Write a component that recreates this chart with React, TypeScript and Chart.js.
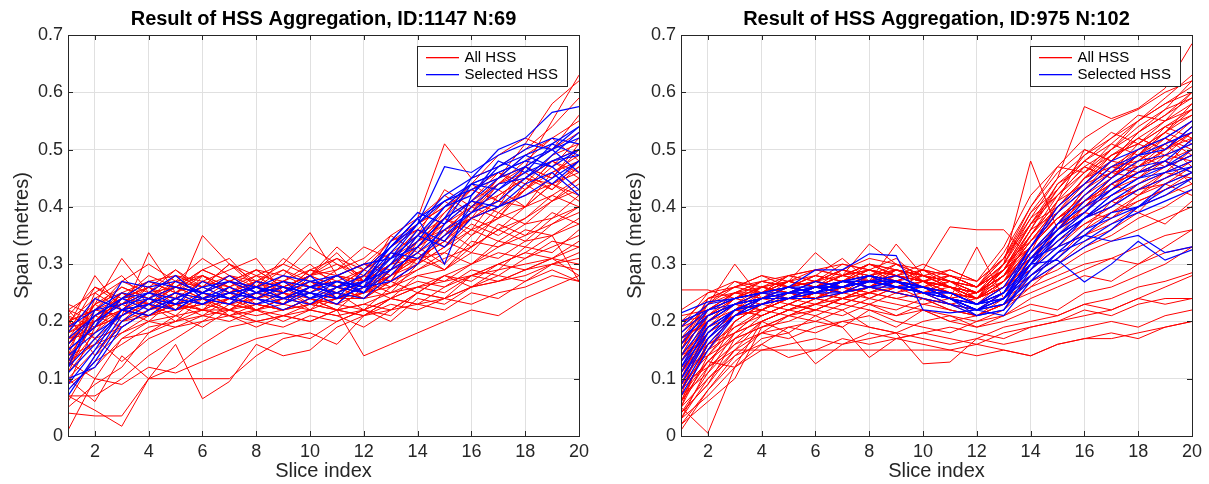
import React, { useEffect, useRef } from "react";
import { Chart, registerables } from "chart.js";

Chart.register(...registerables);

// ---------------- data ----------------
const sliceIndex = [1, 2, 3, 4, 5, 6, 7, 8, 9, 10, 11, 12, 13, 14, 15, 16, 17, 18, 19, 20];
const xTickValues = [2, 4, 6, 8, 10, 12, 14, 16, 18, 20];
const yTickValues = [0, 0.1, 0.2, 0.3, 0.4, 0.5, 0.6, 0.7];
const yTickLabels = ["0", "0.1", "0.2", "0.3", "0.4", "0.5", "0.6", "0.7"];

const leftTitle = "Result of HSS Aggregation, ID:1147 N:69";
const rightTitle = "Result of HSS Aggregation, ID:975 N:102";
const legendLabels = ["All HSS", "Selected HSS"];
const xAxisLabel = "Slice index";
const yAxisLabel = "Span (metres)";

const leftAllHSS: number[][] = [
  [.01, .10, .17, .20, .21, .22, .22, .23, .22, .23, .24, .25, .27, .30, .33, .36, .38, .40, .42, .45],
  [.07, .045, .017, .10, .12, .16, .19, .20, .21, .22, .21, .22, .24, .26, .28, .30, .33, .35, .37, .40],
  [.04, .035, .035, .10, .10, .10, .10, .14, .17, .18, .16, .21, .22, .23, .24, .26, .27, .29, .30, .32],
  [.10, .06, .14, .10, .16, .065, .095, .16, .14, .15, .19, .21, .24, .26, .25, .28, .30, .29, .31, .34],
  [.22, .17, .19, .22, .25, .24, .22, .25, .27, .26, .28, .27, .30, .31, .35, .38, .40, .42, .44, .47],
  [.16, .20, .24, .23, .26, .28, .25, .27, .26, .28, .26, .29, .33, .37, .40, .43, .45, .47, .50, .53],
  [.19, .28, .22, .26, .24, .35, .30, .26, .27, .25, .28, .30, .29, .31, .32, .36, .34, .37, .38, .40],
  [.13, .22, .21, .32, .25, .27, .26, .28, .30, .355, .28, .26, .30, .34, .37, .41, .44, .46, .43, .48],
  [.17, .23, .31, .25, .28, .24, .26, .24, .25, .24, .22, .26, .28, .33, .39, .44, .41, .45, .48, .50],
  [.21, .14, .18, .21, .23, .22, .21, .22, .23, .22, .24, .24, .25, .26, .27, .28, .29, .30, .31, .33],
  [.15, .19, .21, .24, .22, .23, .24, .23, .22, .24, .23, .25, .26, .28, .27, .30, .32, .31, .33, .35],
  [.23, .21, .25, .23, .27, .26, .24, .27, .25, .27, .24, .27, .31, .34, .36, .40, .42, .45, .44, .46],
  [.08, .13, .16, .19, .20, .21, .22, .21, .22, .23, .22, .23, .22, .25, .24, .26, .27, .28, .30, .31],
  [.11, .17, .13, .17, .19, .20, .23, .22, .24, .23, .25, .24, .27, .29, .31, .33, .36, .38, .41, .43],
  [.18, .26, .23, .27, .25, .29, .27, .26, .31, .28, .29, .31, .35, .38, .51, .45, .47, .50, .54, .59],
  [.20, .24, .27, .25, .26, .24, .25, .26, .24, .26, .27, .26, .29, .32, .35, .38, .40, .43, .46, .48],
  [.14, .16, .20, .21, .23, .24, .22, .24, .23, .25, .24, .26, .24, .28, .29, .32, .31, .34, .35, .37],
  [.06, .14, .20, .24, .22, .23, .25, .24, .26, .23, .25, .27, .30, .33, .36, .38, .41, .40, .44, .42],
  [.12, .20, .22, .20, .24, .22, .26, .23, .25, .22, .26, .24, .27, .25, .28, .27, .30, .32, .31, .28],
  [.17, .18, .22, .23, .21, .25, .23, .22, .24, .25, .23, .28, .26, .31, .29, .34, .33, .36, .35, .38],
  [.09, .12, .17, .18, .21, .19, .22, .20, .21, .20, .22, .21, .23, .22, .24, .23, .25, .26, .28, .27],
  [.20, .22, .24, .26, .23, .25, .27, .29, .26, .28, .30, .28, .33, .36, .34, .39, .43, .40, .46, .49],
  [.16, .23, .20, .22, .24, .26, .28, .25, .23, .26, .29, .33, .31, .36, .41, .38, .44, .48, .52, .55],
  [.13, .10, .09, .12, .11, .13, .15, .17, .18, .17, .20, .22, .20, .24, .23, .26, .28, .27, .30, .29],
  [.18, .21, .23, .25, .24, .27, .25, .28, .27, .29, .28, .27, .32, .35, .38, .41, .39, .43, .47, .52],
  [.22, .25, .22, .24, .26, .25, .23, .24, .26, .24, .26, .25, .28, .30, .33, .37, .35, .38, .42, .40],
  [.10, .15, .19, .22, .23, .21, .24, .22, .20, .22, .21, .19, .22, .25, .28, .26, .29, .33, .32, .36],
  [.15, .23, .25, .22, .27, .28, .26, .29, .28, .33, .30, .27, .25, .30, .36, .33, .39, .37, .41, .44],
  [.19, .20, .25, .27, .28, .26, .30, .27, .29, .26, .27, .29, .34, .37, .40, .44, .49, .52, .50, .56],
  [.05, .09, .12, .18, .20, .22, .21, .23, .22, .24, .22, .23, .25, .27, .26, .29, .28, .31, .34, .33],
  [.21, .19, .22, .21, .24, .23, .25, .22, .24, .26, .25, .22, .26, .29, .32, .30, .34, .33, .37, .39],
  [.12, .18, .24, .26, .22, .28, .25, .27, .24, .27, .25, .28, .27, .33, .30, .35, .38, .44, .41, .45],
  [.17, .21, .19, .22, .25, .23, .22, .25, .26, .28, .33, .29, .32, .30, .35, .41, .46, .43, .48, .46],
  [.14, .25, .28, .23, .26, .29, .31, .26, .23, .28, .26, .24, .29, .35, .43, .40, .45, .51, .58, .62],
  [.20, .17, .21, .24, .23, .22, .24, .26, .25, .23, .24, .25, .29, .34, .38, .35, .40, .47, .55, .63],
  [.09, .19, .21, .23, .20, .24, .21, .20, .19, .21, .20, .22, .24, .23, .22, .25, .24, .27, .29, .27],
  [.16, .22, .26, .24, .28, .27, .29, .31, .25, .29, .31, .27, .35, .32, .38, .43, .41, .47, .45, .51],
  [.07, .07, .10, .14, .17, .20, .21, .19, .21, .23, .22, .21, .24, .23, .26, .28, .27, .29, .31, .30],
  [.22, .20, .23, .26, .29, .25, .27, .24, .26, .25, .28, .30, .28, .32, .29, .33, .36, .34, .38, .42],
  [.11, .21, .23, .21, .22, .24, .23, .25, .24, .26, .24, .26, .28, .31, .34, .32, .37, .35, .39, .37],
  [.18, .20, .22, .21, .23, .22, .24, .23, .22, .24, .23, .22, .21, .25, .24, .28, .30, .32, .35, .27],
  [.13, .16, .18, .20, .19, .21, .20, .22, .21, .20, .22, .14, .16, .18, .20, .22, .21, .24, .26, .28],
  [.19, .23, .26, .24, .27, .25, .28, .26, .29, .27, .26, .28, .31, .35, .39, .43, .46, .44, .49, .51],
  [.14, .20, .24, .27, .25, .28, .26, .24, .27, .30, .26, .29, .27, .34, .38, .36, .42, .45, .43, .47],
  [.21, .26, .24, .28, .26, .24, .27, .29, .26, .28, .32, .27, .30, .33, .37, .40, .38, .43, .48, .45],
  [.17, .19, .25, .23, .26, .29, .27, .25, .28, .26, .28, .30, .34, .36, .33, .39, .44, .47, .45, .50],
  [.12, .24, .22, .25, .29, .26, .30, .28, .25, .29, .27, .25, .28, .31, .34, .38, .36, .40, .44, .41],
  [.20, .22, .27, .30, .27, .31, .28, .27, .30, .28, .31, .29, .33, .38, .42, .39, .45, .49, .52, .48],
];

const leftSelectedHSS: number[][] = [
  [.07, .14, .21, .24, .23, .24, .25, .24, .23, .25, .24, .26, .30, .34, .40, .42, .47, .49, .51, .54],
  [.10, .12, .19, .22, .24, .23, .25, .26, .24, .26, .27, .25, .32, .37, .41, .44, .46, .48, .47, .50],
  [.15, .19, .27, .26, .27, .25, .27, .26, .28, .27, .26, .28, .33, .37, .42, .45, .50, .52, .565, .575],
  [.12, .17, .22, .23, .25, .24, .23, .25, .24, .26, .25, .27, .31, .35, .40, .44, .43, .47, .50, .52],
  [.17, .21, .24, .25, .24, .26, .24, .25, .27, .24, .25, .27, .29, .32, .36, .39, .41, .45, .48, .49],
  [.19, .22, .23, .25, .28, .24, .26, .24, .22, .24, .26, .27, .33, .38, .41, .43, .45, .49, .47, .43],
  [.08, .13, .20, .23, .22, .25, .24, .23, .25, .28, .24, .26, .31, .33, .38, .41, .40, .44, .46, .42],
  [.14, .18, .21, .24, .26, .25, .24, .26, .25, .27, .28, .25, .30, .36, .34, .40, .44, .45, .49, .53],
  [.16, .21, .24, .22, .24, .26, .27, .25, .26, .25, .24, .29, .33, .38, .30, .42, .48, .46, .51, .49],
  [.11, .16, .22, .25, .23, .24, .23, .27, .26, .24, .27, .26, .34, .39, .37, .41, .45, .47, .44, .48],
  [.18, .24, .22, .23, .25, .23, .26, .24, .23, .26, .25, .24, .28, .33, .38, .45, .47, .50, .52, .51],
  [.13, .20, .23, .24, .22, .25, .24, .23, .24, .25, .23, .27, .32, .31, .35, .39, .43, .46, .48, .50],
  [.09, .15, .22, .21, .24, .23, .25, .26, .24, .23, .26, .25, .29, .35, .33, .38, .40, .42, .45, .48],
  [.15, .19, .24, .27, .26, .25, .28, .25, .27, .26, .28, .30, .31, .37, .47, .46, .49, .51, .50, .54],
  [.12, .22, .25, .24, .23, .27, .25, .24, .26, .25, .27, .26, .27, .30, .37, .44, .46, .48, .50, .46],
];

const rightAllHSS: number[][] = [
  [.255, .255, .24, .25, .26, .27, .26, .27, .28, .27, .26, .25, .28, .34, .40, .45, .48, .52, .55, .60],
  [.05, .005, .12, .20, .22, .24, .25, .26, .27, .26, .25, .24, .27, .33, .38, .42, .46, .47, .50, .52],
  [.18, .23, .30, .24, .25, .26, .27, .28, .26, .27, .25, .23, .26, .30, .35, .39, .43, .46, .48, .50],
  [.03, .10, .15, .20, .22, .23, .25, .26, .25, .24, .23, .22, .25, .31, .36, .40, .44, .46, .47, .49],
  [.10, .20, .24, .26, .27, .32, .28, .29, .28, .27, .26, .25, .29, .35, .41, .46, .50, .53, .57, .62],
  [.14, .22, .25, .27, .26, .28, .31, .27, .29, .28, .27, .26, .30, .37, .42, .47, .45, .49, .53, .58],
  [.08, .15, .20, .23, .25, .24, .26, .27, .28, .26, .25, .24, .26, .29, .33, .37, .40, .43, .45, .47],
  [.20, .24, .25, .27, .26, .27, .28, .335, .30, .28, .27, .25, .28, .33, .39, .43, .47, .50, .53, .56],
  [.12, .19, .22, .23, .24, .26, .25, .27, .335, .28, .26, .24, .29, .36, .43, .49, .52, .55, .58, .60],
  [.16, .21, .23, .25, .27, .26, .28, .29, .27, .29, .365, .36, .36, .31, .37, .41, .44, .47, .49, .51],
  [.04, .09, .17, .21, .23, .25, .24, .26, .27, .25, .24, .33, .24, .30, .34, .38, .41, .43, .46, .45],
  [.21, .22, .25, .24, .25, .27, .26, .28, .29, .27, .26, .24, .30, .48, .36, .42, .46, .45, .49, .48],
  [.07, .13, .18, .22, .24, .23, .25, .24, .26, .25, .23, .22, .24, .28, .32, .36, .41, .39, .44, .42],
  [.19, .25, .26, .25, .28, .27, .29, .27, .28, .30, .28, .26, .31, .38, .45, .575, .554, .572, .607, .685],
  [.02, .06, .10, .19, .21, .23, .24, .25, .26, .24, .23, .21, .23, .27, .30, .33, .35, .38, .40, .43],
  [.13, .18, .22, .25, .24, .26, .27, .26, .28, .27, .25, .24, .28, .34, .40, .44, .49, .51, .54, .57],
  [.09, .16, .21, .24, .23, .25, .27, .28, .27, .26, .24, .23, .27, .32, .37, .39, .43, .47, .50, .54],
  [.17, .20, .24, .23, .25, .24, .26, .25, .27, .26, .24, .22, .25, .30, .34, .38, .40, .44, .46, .48],
  [.06, .12, .16, .20, .22, .24, .23, .25, .24, .25, .26, .24, .26, .33, .38, .41, .44, .42, .46, .50],
  [.22, .25, .27, .26, .28, .29, .28, .30, .29, .28, .29, .27, .31, .37, .44, .48, .51, .55, .59, .63],
  [.11, .17, .21, .22, .24, .25, .24, .26, .25, .27, .24, .25, .28, .35, .40, .45, .47, .46, .48, .44],
  [.15, .21, .23, .24, .26, .25, .27, .29, .31, .27, .26, .23, .26, .31, .35, .40, .45, .49, .52, .55],
  [.01, .08, .14, .18, .21, .22, .24, .23, .25, .24, .22, .21, .24, .29, .34, .37, .39, .41, .43, .46],
  [.19, .23, .26, .28, .27, .26, .28, .27, .26, .28, .27, .25, .29, .36, .39, .43, .48, .52, .50, .53],
  [.12, .16, .19, .21, .23, .22, .24, .25, .27, .26, .25, .23, .25, .32, .41, .50, .48, .53, .56, .59],
  [.04, .11, .18, .22, .24, .26, .25, .27, .26, .27, .25, .24, .27, .31, .36, .40, .42, .44, .47, .49],
  [.20, .22, .24, .26, .25, .27, .26, .28, .27, .26, .28, .26, .30, .34, .38, .41, .43, .48, .51, .47],
  [.08, .18, .22, .23, .25, .24, .26, .24, .26, .25, .23, .24, .26, .30, .37, .43, .46, .49, .47, .52],
  [.14, .19, .21, .22, .21, .23, .22, .24, .23, .22, .21, .20, .22, .26, .28, .30, .31, .33, .35, .36],
  [.10, .15, .18, .20, .22, .21, .23, .22, .21, .23, .22, .21, .23, .25, .27, .29, .31, .30, .32, .33],
  [.06, .13, .17, .19, .20, .22, .21, .23, .22, .24, .23, .22, .24, .27, .29, .32, .34, .36, .38, .40],
  [.16, .20, .22, .21, .23, .22, .24, .23, .21, .22, .20, .21, .23, .26, .30, .34, .36, .39, .37, .41],
  [.03, .07, .12, .15, .16, .17, .16, .17, .18, .17, .16, .17, .16, .17, .18, .19, .20, .19, .21, .22],
  [.05, .10, .14, .16, .137, .15, .17, .16, .17, .18, .17, .16, .18, .19, .20, .22, .21, .23, .24, .24],
  [.02, .08, .13, .17, .18, .126, .16, .18, .17, .16, .15, .14, .15, .14, .16, .17, .18, .17, .19, .20],
  [.09, .12, .15, .18, .19, .20, .19, .137, .17, .18, .19, .18, .17, .19, .20, .21, .22, .24, .26, .28],
  [.07, .11, .16, .18, .17, .19, .20, .19, .18, .126, .129, .17, .19, .20, .21, .23, .24, .26, .27, .285],
  [.04, .09, .15, .15, .15, .15, .15, .15, .15, .15, .15, .16, .15, .14, .16, .17, .17, .18, .19, .20],
  [.12, .14, .17, .19, .21, .20, .22, .19, .18, .20, .21, .19, .20, .22, .21, .23, .22, .24, .23, .24],
  [.06, .16, .18, .20, .18, .21, .19, .22, .20, .19, .18, .20, .21, .23, .22, .25, .26, .28, .30, .33],
  [.08, .13, .12, .16, .19, .18, .20, .21, .19, .22, .20, .19, .21, .24, .26, .28, .27, .30, .33, .36],
  [.18, .22, .25, .24, .26, .27, .25, .28, .27, .29, .27, .26, .29, .33, .39, .45, .50, .55, .58, .61],
  [.13, .21, .24, .26, .25, .24, .27, .26, .28, .27, .26, .25, .28, .31, .35, .38, .41, .43, .44, .46],
  [.05, .14, .19, .22, .24, .26, .27, .29, .28, .26, .27, .25, .27, .32, .36, .39, .38, .42, .45, .48],
  [.15, .23, .25, .25, .27, .26, .28, .27, .30, .28, .26, .24, .26, .29, .33, .35, .38, .41, .43, .45],
  [.17, .20, .23, .25, .24, .26, .25, .27, .26, .25, .27, .26, .32, .40, .47, .46, .51, .49, .54, .56],
  [.03, .12, .20, .23, .25, .24, .26, .28, .27, .28, .26, .24, .27, .33, .38, .41, .45, .48, .51, .53],
  [.11, .18, .21, .24, .26, .25, .27, .26, .29, .27, .28, .26, .29, .35, .42, .47, .45, .50, .52, .49],
  [.20, .21, .23, .22, .24, .25, .24, .26, .25, .24, .22, .21, .23, .28, .31, .35, .37, .40, .42, .44],
  [.09, .14, .20, .23, .22, .24, .26, .25, .27, .26, .25, .23, .25, .30, .36, .40, .43, .45, .48, .46],
  [.14, .17, .22, .21, .23, .25, .27, .26, .25, .26, .24, .25, .29, .37, .43, .48, .52, .56, .55, .58],
  [.07, .20, .23, .22, .25, .24, .23, .25, .24, .23, .24, .22, .25, .28, .31, .36, .39, .42, .44, .47],
  [.16, .24, .26, .27, .28, .29, .30, .29, .28, .29, .28, .27, .33, .42, .47, .52, .55, .57, .60, .62],
  [.11, .21, .25, .26, .27, .28, .27, .30, .29, .28, .27, .26, .30, .39, .45, .49, .53, .51, .55, .57],
  [.09, .19, .23, .26, .25, .27, .29, .28, .30, .29, .26, .25, .28, .36, .44, .47, .50, .54, .57, .59],
  [.14, .22, .24, .25, .27, .26, .28, .30, .28, .27, .26, .25, .30, .38, .42, .46, .49, .52, .50, .54],
  [.05, .17, .22, .24, .26, .28, .27, .29, .28, .27, .29, .27, .31, .40, .46, .50, .48, .53, .56, .60],
  [.19, .21, .24, .27, .26, .28, .27, .26, .29, .28, .27, .24, .28, .34, .39, .44, .48, .47, .51, .55],
  [.13, .20, .23, .25, .27, .26, .29, .28, .27, .26, .25, .24, .27, .35, .41, .44, .46, .50, .53, .51],
  [.08, .15, .22, .26, .25, .27, .26, .28, .29, .28, .26, .25, .29, .37, .40, .45, .49, .51, .49, .53],
  [.17, .23, .27, .25, .28, .27, .30, .29, .27, .29, .28, .26, .29, .33, .38, .42, .45, .49, .53, .57],
  [.10, .18, .21, .24, .27, .29, .28, .30, .28, .27, .28, .26, .31, .39, .43, .48, .46, .51, .54, .52],
  [.15, .24, .26, .28, .26, .27, .29, .31, .30, .27, .26, .24, .27, .31, .36, .41, .44, .46, .50, .53],
  [.06, .16, .21, .25, .26, .25, .27, .28, .27, .29, .27, .25, .28, .32, .37, .43, .47, .48, .52, .50],
];

const rightSelectedHSS: number[][] = [
  [.215, .234, .24, .25, .26, .29, .29, .318, .315, .22, .215, .22, .24, .30, .35, .38, .42, .45, .47, .50],
  [.07, .15, .21, .23, .24, .25, .26, .27, .26, .25, .24, .22, .25, .32, .37, .40, .43, .46, .48, .517],
  [.12, .20, .23, .24, .25, .26, .27, .28, .27, .26, .25, .23, .25, .33, .39, .43, .47, .49, .50, .54],
  [.18, .22, .24, .25, .26, .25, .27, .26, .27, .25, .24, .22, .23, .30, .307, .269, .30, .34, .307, .325],
  [.10, .18, .22, .24, .25, .26, .26, .27, .26, .26, .24, .21, .22, .29, .33, .38, .42, .45, .46, .47],
  [.15, .21, .23, .24, .25, .26, .27, .27, .27, .25, .25, .23, .24, .31, .36, .41, .45, .48, .49, .51],
  [.08, .16, .21, .23, .24, .25, .25, .26, .26, .25, .24, .22, .21, .27, .32, .36, .38, .40, .42, .45],
  [.20, .22, .23, .24, .25, .26, .26, .27, .28, .26, .25, .23, .24, .31, .35, .39, .44, .47, .48, .46],
  [.13, .19, .22, .24, .24, .25, .26, .28, .27, .26, .24, .23, .25, .30, .34, .38, .41, .44, .46, .48],
  [.09, .17, .22, .23, .25, .25, .27, .27, .26, .26, .24, .22, .24, .28, .32, .34, .37, .39, .41, .43],
  [.17, .21, .23, .25, .24, .26, .26, .27, .27, .26, .24, .22, .23, .30, .37, .42, .46, .49, .51, .53],
  [.11, .19, .22, .24, .25, .25, .27, .26, .27, .25, .25, .23, .24, .29, .35, .38, .40, .43, .45, .47],
  [.14, .20, .23, .24, .26, .26, .26, .27, .26, .25, .23, .21, .22, .28, .31, .35, .39, .40, .44, .46],
  [.16, .22, .24, .25, .25, .27, .26, .27, .27, .26, .24, .23, .25, .32, .36, .39, .43, .46, .47, .49],
  [.12, .18, .22, .23, .24, .24, .25, .26, .25, .24, .23, .22, .24, .31, .33, .35, .34, .35, .32, .33],
  [.19, .23, .24, .25, .26, .25, .27, .28, .26, .25, .24, .23, .26, .33, .40, .44, .48, .50, .52, .55],
  [.10, .17, .21, .24, .24, .26, .25, .27, .27, .25, .24, .22, .23, .27, .30, .33, .36, .40, .43, .45],
];

// ---------------- styling ----------------
const FONT = '"Liberation Sans", Arial, Helvetica, sans-serif';
const AXIS_COLOR = "#262626";
const GRID_COLOR = "#e0e0e0";
const RED = "#ff0000";
const BLUE = "#0000ff";
const CANVAS_H = 484;
const AREA_LEFT = 68;
const AREA_RIGHT = 579;
const AREA_TOP = 35;
const AREA_BOTTOM = 436;

const framePlugin = {
  id: "matlabFrame",
  afterDatasetsDraw(chart: any) {
    const { ctx, chartArea } = chart;
    const { left, right, top, bottom } = chartArea;
    const xs = chart.scales.x;
    const ys = chart.scales.y;
    ctx.save();
    ctx.strokeStyle = AXIS_COLOR;
    ctx.lineWidth = 1;
    ctx.beginPath();
    const tl = 5;
    xTickValues.forEach((v) => {
      const px = Math.round(xs.getPixelForValue(v)) + 0.5;
      ctx.moveTo(px, bottom);
      ctx.lineTo(px, bottom - tl);
      ctx.moveTo(px, top);
      ctx.lineTo(px, top + tl);
    });
    yTickValues.forEach((v) => {
      const py = Math.round(ys.getPixelForValue(v)) + 0.5;
      ctx.moveTo(left, py);
      ctx.lineTo(left + tl, py);
      ctx.moveTo(right, py);
      ctx.lineTo(right - tl, py);
    });
    ctx.stroke();
    ctx.strokeRect(Math.round(left) + 0.5, Math.round(top) + 0.5, Math.round(right - left), Math.round(bottom - top));
    ctx.restore();
  },
  afterDraw(chart: any) {
    const { ctx, chartArea } = chart;
    const title = chart.options.plugins.matlabFrame.title;
    ctx.save();
    // title
    ctx.font = `bold 20px ${FONT}`;
    ctx.fillStyle = "#000000";
    ctx.textAlign = "center";
    ctx.textBaseline = "alphabetic";
    ctx.fillText(title, (chartArea.left + chartArea.right) / 2, 25);
    // legend
    const w = 150;
    const h = 40;
    const lx = Math.round(chartArea.right - 12 - w) + 0.5;
    const ly = Math.round(chartArea.top + 11) + 0.5;
    ctx.fillStyle = "#ffffff";
    ctx.fillRect(lx, ly, w, h);
    ctx.strokeStyle = AXIS_COLOR;
    ctx.lineWidth = 1;
    ctx.strokeRect(lx, ly, w, h);
    const rows = [
      { color: RED, label: legendLabels[0], y: Math.round(ly + 11) },
      { color: BLUE, label: legendLabels[1], y: Math.round(ly + 28) },
    ];
    ctx.font = `15px ${FONT}`;
    ctx.textAlign = "left";
    ctx.textBaseline = "middle";
    rows.forEach((r) => {
      ctx.fillStyle = r.color;
      ctx.fillRect(Math.round(lx + 8), r.y - 1, 33, 1.3);
      ctx.fillStyle = "#000000";
      ctx.fillText(r.label, lx + 47, r.y);
    });
    ctx.restore();
  },
};

function buildDatasets(red: number[][], blue: number[][]) {
  const toPoints = (row: number[]) => row.map((v, i) => ({ x: sliceIndex[i], y: v }));
  const blueSets = blue.map((row, i) => ({
    label: `${legendLabels[1]} ${i + 1}`,
    data: toPoints(row),
    borderColor: BLUE,
    backgroundColor: BLUE,
    borderWidth: 1.2,
    pointRadius: 0,
    tension: 0,
    fill: false,
    order: 0,
  }));
  const redSets = red.map((row, i) => ({
    label: `${legendLabels[0]} ${i + 1}`,
    data: toPoints(row),
    borderColor: RED,
    backgroundColor: RED,
    borderWidth: 1,
    pointRadius: 0,
    tension: 0,
    fill: false,
    order: 1,
  }));
  return [...blueSets, ...redSets];
}

function HssPanel(props: { title: string; red: number[][]; blue: number[][]; left: number; width: number }) {
  const ref = useRef<HTMLCanvasElement>(null);
  useEffect(() => {
    const canvas = ref.current;
    if (!canvas) return;
    const chart = new Chart(canvas, {
      type: "line",
      data: { datasets: buildDatasets(props.red, props.blue) as any },
      plugins: [framePlugin],
      options: {
        responsive: false,
        maintainAspectRatio: false,
        animation: false,
        devicePixelRatio: 1,
        events: [],
        layout: {
          padding: { left: 0, top: AREA_TOP, right: props.width - AREA_RIGHT, bottom: 0 },
        },
        plugins: {
          legend: { display: false },
          tooltip: { enabled: false },
          title: { display: false },
          matlabFrame: { title: props.title },
        } as any,
        scales: {
          x: {
            type: "linear",
            min: 1,
            max: 20,
            afterBuildTicks: (axis: any) => {
              axis.ticks = xTickValues.map((v) => ({ value: v }));
            },
            afterFit: (axis: any) => {
              axis.height = CANVAS_H - AREA_BOTTOM;
            },
            ticks: {
              autoSkip: false,
              maxRotation: 0,
              padding: 5,
              color: AXIS_COLOR,
              font: { family: FONT, size: 18 },
              callback: (v: any) => String(v),
            },
            grid: { color: GRID_COLOR, lineWidth: 1, drawTicks: false },
            border: { display: false },
            title: {
              display: true,
              text: xAxisLabel,
              color: AXIS_COLOR,
              font: { family: FONT, size: 20 },
              padding: { top: 0, bottom: 1 },
            },
          },
          y: {
            type: "linear",
            min: 0,
            max: 0.7,
            afterBuildTicks: (axis: any) => {
              axis.ticks = yTickValues.map((v) => ({ value: v }));
            },
            afterFit: (axis: any) => {
              axis.width = AREA_LEFT;
            },
            ticks: {
              autoSkip: false,
              padding: 5,
              color: AXIS_COLOR,
              font: { family: FONT, size: 18 },
              callback: (v: any) => {
                const idx = yTickValues.indexOf(v);
                return idx >= 0 ? yTickLabels[idx] : "";
              },
            },
            grid: { color: GRID_COLOR, lineWidth: 1, drawTicks: false },
            border: { display: false },
            title: {
              display: true,
              text: yAxisLabel,
              color: AXIS_COLOR,
              font: { family: FONT, size: 20 },
              padding: { top: 10, bottom: 0 },
            },
          },
        },
      } as any,
    });
    return () => chart.destroy();
  }, []);
  return (
    <canvas
      ref={ref}
      width={props.width}
      height={CANVAS_H}
      style={{ position: "absolute", left: props.left, top: 0, width: props.width, height: CANVAS_H }}
    />
  );
}

export default function App() {
  return (
    <div style={{ position: "fixed", left: 0, top: 0, width: 1209, height: CANVAS_H, background: "#ffffff", overflow: "hidden" }}>
      <HssPanel title={leftTitle} red={leftAllHSS} blue={leftSelectedHSS} left={0} width={604} />
      <HssPanel title={rightTitle} red={rightAllHSS} blue={rightSelectedHSS} left={613} width={596} />
    </div>
  );
}
